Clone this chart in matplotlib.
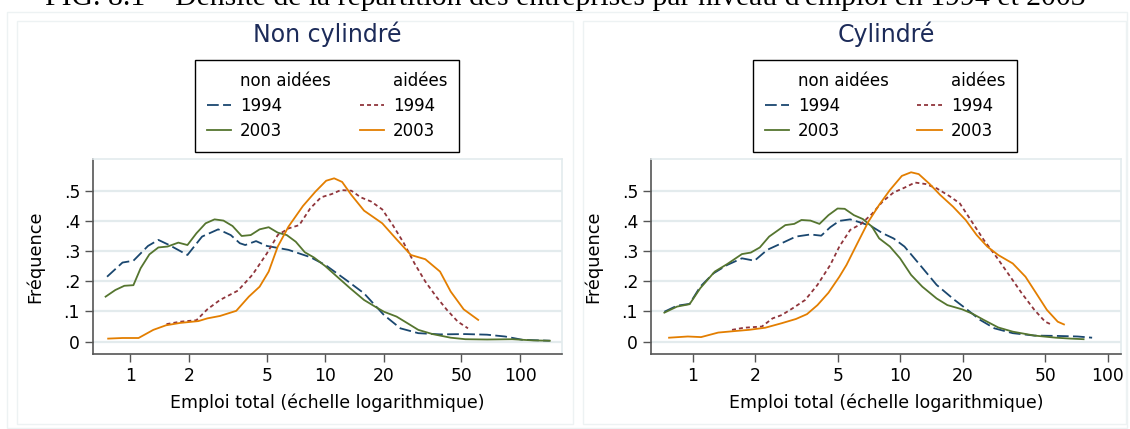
import numpy as np
import matplotlib
matplotlib.use("Agg")
import matplotlib.pyplot as plt
from matplotlib.lines import Line2D
from matplotlib.patches import Rectangle

# ---- data (emploi total, densité) -----------------------------------------
# panel 1 : non cylindré
nc_na94_x = [0.758, 0.91, 1.035, 1.23, 1.39, 1.58, 1.96, 2.33, 2.82, 3.27, 3.64, 3.88, 4.41,
             5.01, 6.47, 8.36, 10, 12.8, 15.8, 20, 24.3, 30, 38.8, 52.3, 67.6, 83.6, 103, 142]
nc_na94_y = [0.215, 0.262, 0.268, 0.317, 0.337, 0.32, 0.287, 0.348, 0.372, 0.353, 0.326, 0.32, 0.333,
             0.317, 0.304, 0.28, 0.254, 0.204, 0.16, 0.088, 0.044, 0.028, 0.024, 0.025, 0.023, 0.017, 0.006, 0.003]

nc_na03_x = [0.745, 0.836, 0.93, 1.035, 1.127, 1.25, 1.39, 1.55, 1.76, 1.96, 2.18, 2.43, 2.7, 3.0,
             3.34, 3.72, 4.14, 4.6, 5.12, 5.7, 6.34, 7.05, 7.85, 8.73, 10, 11.5, 13.4, 15.8, 18, 20,
             23.2, 26.4, 30, 35.5, 44, 52.3, 67.6, 91, 117, 142]
nc_na03_y = [0.149, 0.171, 0.185, 0.187, 0.243, 0.289, 0.312, 0.315, 0.328, 0.32, 0.359, 0.392, 0.405, 0.401,
             0.383, 0.35, 0.353, 0.372, 0.379, 0.361, 0.353, 0.331, 0.296, 0.279, 0.25, 0.215, 0.177, 0.138, 0.116, 0.099,
             0.083, 0.061, 0.039, 0.025, 0.013, 0.008, 0.007, 0.008, 0.004, 0.003]

nc_a94_x = [1.53, 1.8, 2.18, 2.48, 2.88, 3.56, 4.22, 5.01, 5.7, 6.47, 7.35, 8.36, 9.5, 10.8, 12,
            13.6, 15.2, 17.2, 19.6, 22.2, 25.3, 28.7, 32.6, 37.1, 42.1, 47.9, 54]
nc_a94_y = [0.058, 0.066, 0.071, 0.107, 0.138, 0.169, 0.221, 0.292, 0.353, 0.375, 0.386, 0.441, 0.478, 0.489, 0.502,
            0.5, 0.478, 0.464, 0.438, 0.386, 0.326, 0.259, 0.199, 0.149, 0.105, 0.066, 0.044]

nc_a03_x = [0.768, 0.91, 1.1, 1.31, 1.52, 1.8, 2.23, 2.48, 2.88, 3.49, 4.05, 4.6, 5.12, 5.7, 6.47,
            7.67, 8.9, 10.1, 11.1, 12.2, 13.6, 15.8, 19.6, 23.2, 27.5, 32.6, 38.8, 44, 51.3, 60.9]
nc_a03_y = [0.01, 0.012, 0.012, 0.039, 0.054, 0.062, 0.068, 0.077, 0.085, 0.102, 0.149, 0.182, 0.232, 0.315, 0.381,
            0.449, 0.497, 0.533, 0.541, 0.529, 0.486, 0.434, 0.392, 0.339, 0.287, 0.273, 0.232, 0.166, 0.107, 0.072]

# panel 2 : cylindré
cy_na94_x = [0.732, 0.842, 0.968, 1.09, 1.26, 1.47, 1.73, 1.99, 2.29, 2.69, 3.15, 3.7, 4.17, 4.61,
             5.1, 5.75, 6.49, 7.32, 8.24, 9.3, 10.5, 12.3, 15, 18.3, 20.7, 24.3, 28.5, 34.9, 44.4,
             56.4, 71.7, 84.2]
cy_na94_y = [0.099, 0.119, 0.125, 0.182, 0.226, 0.254, 0.276, 0.268, 0.304, 0.326, 0.348, 0.355, 0.351, 0.379,
             0.4, 0.405, 0.394, 0.381, 0.359, 0.342, 0.315, 0.259, 0.188, 0.138, 0.11, 0.072, 0.044, 0.028, 0.02,
             0.019, 0.017, 0.013]

cy_na03_x = [0.732, 0.842, 0.968, 1.09, 1.28, 1.47, 1.73, 1.91, 2.11, 2.34, 2.8, 3.09, 3.35, 3.7,
             4.09, 4.52, 5.0, 5.41, 5.99, 6.62, 7.32, 7.93, 8.93, 10, 11.3, 12.8, 15, 16.9, 19.9,
             22.4, 25.3, 29.7, 34.9, 44.4, 56.4, 66.3, 76.6]
cy_na03_y = [0.096, 0.116, 0.124, 0.177, 0.232, 0.257, 0.29, 0.295, 0.312, 0.348, 0.386, 0.39, 0.403, 0.401,
             0.39, 0.419, 0.441, 0.44, 0.419, 0.406, 0.381, 0.342, 0.315, 0.276, 0.221, 0.182, 0.143, 0.121, 0.107,
             0.092, 0.072, 0.047, 0.033, 0.02, 0.013, 0.01, 0.008]

cy_a94_x = [1.55, 1.77, 2.16, 2.43, 2.69, 3.03, 3.49, 4.0, 4.61, 5.1, 5.75, 6.49, 7.32, 8.24, 9.3,
            10.5, 11.8, 13.3, 15, 17.3, 19.4, 21.9, 25.3, 29.1, 33.5, 38.6, 44.4, 50, 54.2]
cy_a94_y = [0.039, 0.046, 0.05, 0.077, 0.088, 0.11, 0.138, 0.188, 0.254, 0.315, 0.37, 0.39, 0.423, 0.464, 0.494,
            0.51, 0.527, 0.522, 0.508, 0.482, 0.458, 0.403, 0.337, 0.281, 0.221, 0.16, 0.105, 0.066, 0.055]

cy_a03_x = [0.771, 0.949, 1.1, 1.33, 1.6, 1.87, 2.24, 2.69, 3.15, 3.56, 4.0, 4.52, 5.1, 5.52, 6.23,
            7.03, 7.93, 8.93, 10.2, 11.3, 12.3, 13.9, 15.6, 18, 20.7, 23.4, 26.3, 29.7, 34.9, 40.2,
            45.3, 51, 57.5, 61.6]
cy_a03_y = [0.013, 0.017, 0.015, 0.03, 0.035, 0.039, 0.046, 0.061, 0.075, 0.091, 0.121, 0.162, 0.215, 0.254, 0.326,
            0.397, 0.453, 0.502, 0.549, 0.561, 0.555, 0.522, 0.486, 0.447, 0.403, 0.353, 0.315, 0.287, 0.259, 0.215,
            0.16, 0.105, 0.066, 0.057]

panel_titles = ["Non cylindré", "Cylindré"]
xticks = [1, 2, 5, 10, 20, 50, 100]
yticks = [0, 0.1, 0.2, 0.3, 0.4, 0.5]
ytick_labels = ["0", ".1", ".2", ".3", ".4", ".5"]
fig_title = "FIG. 8.1 – Densité de la répartition des entreprises par niveau d'emploi en 1994 et 2003"

# ---- styling ----------------------------------------------------------------
NAVY, MAROON, GREEN, ORANGE = "#1a476f", "#90353b", "#55752f", "#e37e00"
GRID = "#e3ebed"
TITLE_C = "#1c2b59"
W, H = 1130, 429
LW = 1.3
long_dash = (0, (6.5, 2.4))
short_dash = (0, (2.2, 1.7))

plt.rcParams["font.family"] = ["DejaVu Sans"]

fig = plt.figure(figsize=(W / 100, H / 100), dpi=100)

# faint outer frames (graph region / panel regions)
for (x0, y0, x1, y1) in [(7, 12, 1127, 428), (17, 21, 573, 424), (583, 21, 1126, 424)]:
    fig.patches.append(Rectangle((x0 / W, 1 - y1 / H), (x1 - x0) / W, (y1 - y0) / H,
                                 transform=fig.transFigure, fill=False,
                                 edgecolor="#edf2f3", lw=1.0))

panels = [
    dict(left=93, right=562, xlim=(0.642, 164), title=panel_titles[0],
         series=[(nc_na94_x, nc_na94_y), (nc_na03_x, nc_na03_y),
                 (nc_a94_x, nc_a94_y), (nc_a03_x, nc_a03_y)],
         legend_box=(195, 459)),
    dict(left=651, right=1121, xlim=(0.631, 116), title=panel_titles[1],
         series=[(cy_na94_x, cy_na94_y), (cy_na03_x, cy_na03_y),
                 (cy_a94_x, cy_a94_y), (cy_a03_x, cy_a03_y)],
         legend_box=(753, 1017)),
]
styles = [dict(color=NAVY, ls=long_dash), dict(color=GREEN, ls="-"),
          dict(color=MAROON, ls=short_dash), dict(color=ORANGE, ls="-")]

top, bottom = 159, 354
for p in panels:
    ax = fig.add_axes([p["left"] / W, 1 - bottom / H,
                       (p["right"] - p["left"]) / W, (bottom - top) / H])
    ax.set_xscale("log")
    for (xs, ys), st in zip(p["series"], styles):
        ax.plot(xs, ys, color=st["color"], linestyle=st["ls"], lw=LW)
    ax.set_xlim(*p["xlim"])
    ax.set_ylim(-0.041, 0.605)
    ax.set_xticks(xticks)
    ax.set_xticklabels([str(t) for t in xticks])
    ax.minorticks_off()
    ax.set_yticks(yticks)
    ax.set_yticklabels(ytick_labels)
    for y in yticks:
        ax.axhline(y, color=GRID, lw=1.6, zorder=0)
    for s in ["top", "right"]:
        ax.spines[s].set_color(GRID)
        ax.spines[s].set_linewidth(1.2)
    for s in ["left", "bottom"]:
        ax.spines[s].set_color("#555555")
        ax.spines[s].set_linewidth(1.2)
    ax.tick_params(axis="x", length=5.5, width=1.0, color="#555555", pad=4, labelsize=12.3)
    ax.tick_params(axis="y", length=5.8, width=1.0, color="#555555", pad=3.5, labelsize=12.3)
    ax.set_xlabel("Emploi total (échelle logarithmique)", fontsize=12.5, labelpad=6)
    ax.set_ylabel("Fréquence", fontsize=12.8, labelpad=14)

    # panel title, centred over the plot region
    fig.text((p["left"] + p["right"]) / 2 / W, 1 - 42 / H, p["title"], fontsize=17,
             color=TITLE_C, ha="center", va="baseline")

    # legend: two columns with headings
    blank = Line2D([], [], color="none")
    handles = [blank, Line2D([], [], color=NAVY, ls=long_dash, lw=LW),
               Line2D([], [], color=GREEN, lw=LW),
               blank, Line2D([], [], color=MAROON, ls=short_dash, lw=LW),
               Line2D([], [], color=ORANGE, lw=LW)]
    labels = ["non aidées", "1994", "2003", "aidées", "1994", "2003"]
    lx0, lx1 = p["legend_box"]
    leg = fig.legend(handles, labels, ncol=2, loc="upper left",
                     bbox_to_anchor=(lx0 / W, 1 - 60 / H, (lx1 - lx0) / W, 0.0),
                     mode="expand", fontsize=12, frameon=True, fancybox=False,
                     edgecolor="black", framealpha=1, handlelength=1.45,
                     handletextpad=0.55, borderpad=0.7, labelspacing=0.43,
                     borderaxespad=0)
    leg.get_frame().set_linewidth(1.0)

fig.text(0.5, 1 - 5 / H, fig_title, family="Liberation Serif", fontsize=21.4,
         ha="center", va="baseline")

fig.savefig("out.png", dpi=100)
